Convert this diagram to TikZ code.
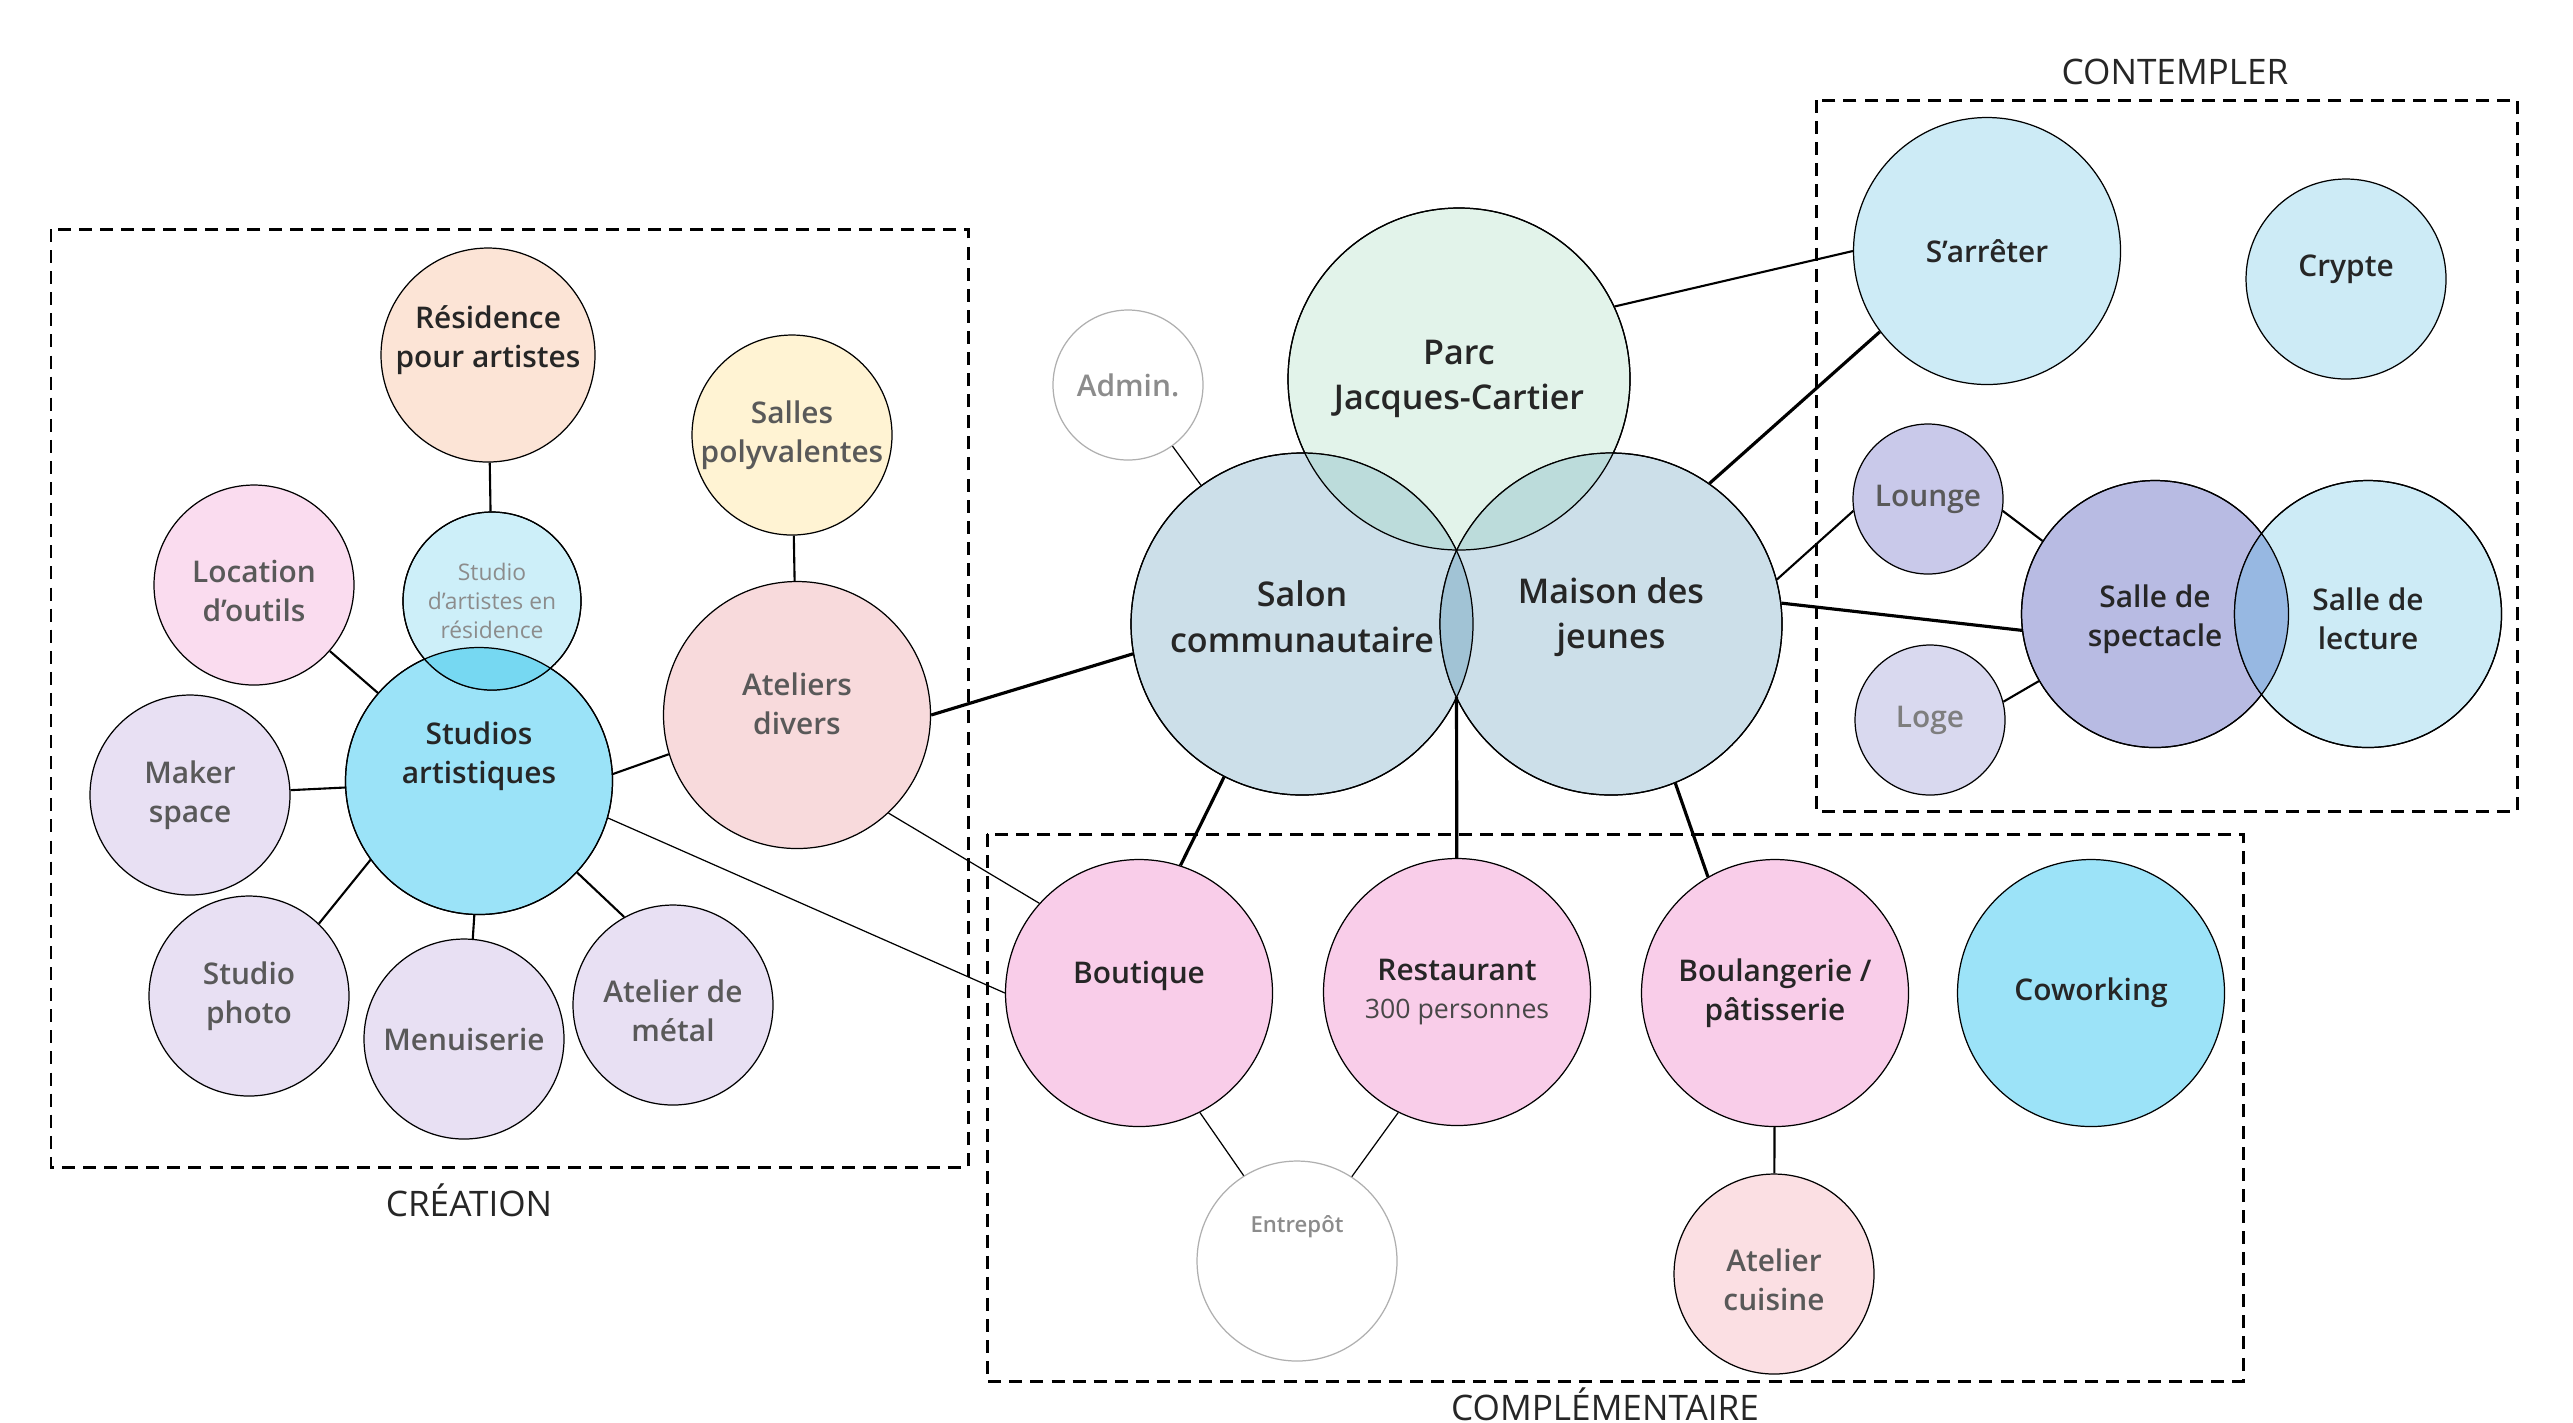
\documentclass[tikz,border=0pt]{standalone}
\usepackage{fontspec}
\setmainfont{Open Sans}[BoldFont={Open Sans Semibold}]
\definecolor{ink}{HTML}{262626}
\definecolor{dimg}{HTML}{595959}
\definecolor{faintg}{HTML}{8C8C8C}
\definecolor{peach}{HTML}{FCE4D6}
\definecolor{residc}{HTML}{CDEFF9}
\definecolor{pinka}{HTML}{FADCEF}
\definecolor{cyana}{HTML}{9BE3F8}
\definecolor{lav}{HTML}{E8E0F3}
\definecolor{cream}{HTML}{FFF3D3}
\definecolor{rose}{HTML}{F8DADC}
\definecolor{parcg}{HTML}{E2F3EA}
\definecolor{bluegray}{HTML}{CCDFE9}
\definecolor{skyl}{HTML}{CDEBF6}
\definecolor{louv}{HTML}{C9C9EA}
\definecolor{logev}{HTML}{D9D9EF}
\definecolor{specv}{HTML}{B8BBE3}
\definecolor{pinkb}{HTML}{F9CDE9}
\definecolor{cuisr}{HTML}{FBDFE3}
\definecolor{cowk}{HTML}{9CE3F8}
\definecolor{lensc}{HTML}{76D8F2}
\definecolor{lensp}{HTML}{BCDCDB}
\definecolor{lensm}{HTML}{A1C3D5}
\definecolor{lenss}{HTML}{97B8E2}
\begin{document}
\begin{tikzpicture}[
  bub/.style={circle,draw=black,line width=0.35pt,inner sep=0pt,align=center,text=ink,font=\bfseries\fontsize{8.5}{11}\selectfont},
  sm/.style={bub,minimum size=2cm},
  md/.style={bub,minimum size=2.67cm},
  lg/.style={bub,minimum size=3.42cm,font=\bfseries\fontsize{9.7}{13}\selectfont},
  xs/.style={bub,minimum size=1.5cm},
  dim/.style={text=dimg},
  txt/.style={align=center,text=ink,font=\bfseries\fontsize{8.5}{11}\selectfont},
  grp/.style={draw=black,line width=0.85pt,dash pattern=on 3.7pt off 2.3pt},
  grplbl/.style={anchor=base,text=ink,font=\fontsize{10}{12}\selectfont},
  fat/.style={line width=0.9pt},
  med/.style={line width=0.6pt},
  fine/.style={line width=0.35pt}]
\useasboundingbox (0,0) rectangle (25.73,-14.22);

\draw[grp] (0.51,-2.29) rectangle (9.68,-11.67);
\draw[grp] (18.16,-1.00) rectangle (25.17,-8.11);
\draw[grp] (9.87,-8.34) rectangle (22.43,-13.81);
\node[grplbl] at (4.69,-12.16) (creation) {CRÉATION};
\node[grplbl] at (21.75,-0.84) (contempler) {CONTEMPLER};
\node[grplbl] at (16.05,-14.20) (complementaire) {COMPLÉMENTAIRE};

\node[sm,minimum size=2.14cm,fill=peach,label={[txt,yshift=1.5mm]center:{Résidence\\pour artistes}}] at (4.88,-3.55) (residence) {};
\node[sm,fill=pinka,label={[txt,text=dimg,yshift=-0.6mm]center:{Location\\d’outils}}] at (2.54,-5.85) (location) {};
\node[sm,fill=lav,dim] at (1.90,-7.95) (maker) {Maker\\space};
\node[sm,fill=lav,dim] at (2.49,-9.96) (photo) {Studio\\photo};
\node[sm,fill=lav,dim] at (4.64,-10.39) (menuiserie) {Menuiserie};
\node[sm,fill=lav,label={[txt,text=dimg,yshift=-0.6mm]center:{Atelier de\\métal}}] at (6.73,-10.05) (metal) {};
\node[md,fill=cyana,label={[txt,yshift=2.5mm]center:{Studios\\artistiques}}] at (4.79,-7.81) (studios) {};
\node[bub,minimum size=1.78cm,fill=residc,text=faintg,font=\fontsize{6.5}{8.3}\selectfont] at (4.92,-6.01) (residart) {Studio\\d’artistes en\\résidence};
\node[sm,fill=cream,dim] at (7.92,-4.35) (salles) {Salles\\polyvalentes};
\node[md,fill=rose,label={[txt,text=dimg,yshift=1.1mm]center:{Ateliers\\divers}}] at (7.97,-7.15) (ateliers) {};

\node[xs,draw=faintg!70,fill=white,text=faintg] at (11.28,-3.85) (admin) {Admin.};
\node[lg,fill=parcg] at (14.59,-3.79) (parc) {Parc\\Jacques-Cartier};
\node[lg,fill=bluegray,label={[txt,font=\bfseries\fontsize{9.7}{13}\selectfont,yshift=0.7mm]center:{Salon\\communautaire}}] at (13.02,-6.24) (salon) {};
\node[lg,fill=bluegray,label={[txt,font=\bfseries\fontsize{9.7}{13}\selectfont,yshift=0.7mm]center:{Maison des\\jeunes}}] at (16.11,-6.24) (maison) {};
\coordinate (pied) at (14.565,-6.97);

\node[md,fill=skyl] at (19.87,-2.51) (sarreter) {S’arrêter};
\node[sm,fill=skyl,label={[txt,yshift=1mm]center:{Crypte}}] at (23.46,-2.79) (crypte) {};
\node[xs,fill=louv,dim] at (19.28,-4.99) (lounge) {Lounge};
\node[xs,fill=logev,text=faintg!90!black] at (19.30,-7.20) (loge) {Loge};
\node[md,fill=specv,label={[txt,yshift=-0.5mm]center:{Salle de\\spectacle}}] at (21.55,-6.14) (spectacle) {};
\node[md,fill=skyl,label={[txt,yshift=-0.5mm]center:{Salle de\\lecture}}] at (23.68,-6.14) (lecture) {};

\node[md,fill=pinkb,label={[txt,yshift=1.7mm]center:{Boutique}}] at (11.39,-9.93) (boutique) {};
\node[md,fill=pinkb] at (14.57,-9.92) (restaurant) {Restaurant\\{\normalfont\fontsize{7.6}{10}\selectfont\color{ink!85}300 personnes}};
\node[md,fill=pinkb] at (17.75,-9.93) (boulangerie) {Boulangerie /\\pâtisserie};
\node[md,fill=cowk] at (20.91,-9.93) (coworking) {Coworking};
\node[sm,draw=faintg!70,fill=white,label={[txt,text=faintg,font=\bfseries\fontsize{6.3}{8}\selectfont,yshift=3.4mm]center:{Entrepôt}}] at (12.97,-12.61) (entrepot) {};
\node[sm,fill=cuisr,label={[txt,text=dimg,yshift=-0.6mm]center:{Atelier\\cuisine}}] at (17.74,-12.74) (cuisine) {};

\begin{scope}
\clip (studios.center) circle (1.335);
\fill[lensc] (residart.center) circle (0.89);
\end{scope}
\begin{scope}
\clip (salon.center) circle (1.71);
\fill[lensp] (parc.center) circle (1.71);
\fill[lensm] (maison.center) circle (1.71);
\end{scope}
\begin{scope}
\clip (maison.center) circle (1.71);
\fill[lensp] (parc.center) circle (1.71);
\end{scope}
\begin{scope}
\clip (spectacle.center) circle (1.335);
\fill[lenss] (lecture.center) circle (1.335);
\end{scope}
\draw[fine] (studios.center) circle (1.335) (residart.center) circle (0.89);
\foreach \n in {parc,salon,maison}
  \draw[fine] (\n.center) circle (1.71);
\draw[fine] (spectacle.center) circle (1.335) (lecture.center) circle (1.335);

\foreach \a/\b in {location/studios,maker/studios,photo.46/studios.216,menuiserie.85/studios.268,metal.119/studios.317,studios.3/ateliers.197,residence/residart,salles/ateliers,parc.25/sarreter.180,lounge.351/spectacle.147,loge.14/spectacle.210,boulangerie/cuisine,maison.15/lounge.189}
  \draw[med] (\a) -- (\b);
\foreach \a/\b in {ateliers.0/salon.190,maison.55/sarreter.217,maison.7/spectacle.187,salon.243/boutique.72,pied/restaurant,maison.292/boulangerie.120}
  \draw[fat] (\a) -- (\b);
\foreach \a/\b in {admin/salon,ateliers.313/boutique.138,studios.344/boutique.180,boutique.297/entrepot.122,restaurant.244/entrepot.57}
  \draw[fine] (\a) -- (\b);
\end{tikzpicture}
\end{document}
